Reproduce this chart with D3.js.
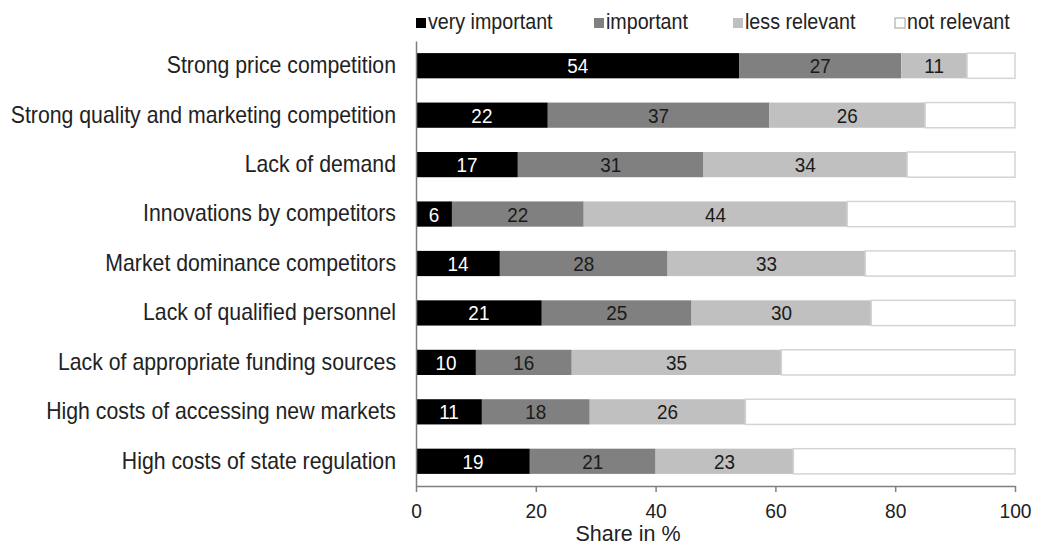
<!DOCTYPE html>
<html>
<head>
<meta charset="utf-8">
<script src="https://cdn.jsdelivr.net/npm/d3@7"></script>
<style>
  html, body { margin: 0; padding: 0; background: #fff; }
  svg { display: block; font-family: "Liberation Sans", Arial, sans-serif; }
</style>
</head>
<body>
<svg id="chart" width="1038" height="545"></svg>
<script>
// Obstacles to business: share of firms rating each factor
const categories = [
  "Strong price competition",
  "Strong quality and marketing competition",
  "Lack of demand",
  "Innovations by competitors",
  "Market dominance competitors",
  "Lack of qualified personnel",
  "Lack of appropriate funding sources",
  "High costs of accessing new markets",
  "High costs of state regulation"
];
const seriesNames = ["very important", "important", "less relevant", "not relevant"];
const veryImportant = [54, 22, 17, 6, 14, 21, 10, 11, 19];
const important     = [27, 37, 31, 22, 28, 25, 16, 18, 21];
const lessRelevant  = [11, 26, 34, 44, 33, 30, 35, 26, 23];
const notRelevant   = [8, 15, 18, 28, 25, 24, 39, 45, 37];
const xTicks = [0, 20, 40, 60, 80, 100];

const fills = ["#000000", "#808080", "#c0c0c0", "#ffffff"];
const labelColors = ["#ffffff", "#1a1a1a", "#1a1a1a", null];
const textColor = "#222222";

const rows = categories.map((c, i) => ({
  category: c,
  "very important": veryImportant[i],
  "important": important[i],
  "less relevant": lessRelevant[i],
  "not relevant": notRelevant[i]
}));

// narrow the type horizontally while keeping each label anchored in place
function squeeze(sel, k) {
  sel.each(function () {
    const t = d3.select(this);
    const x0 = +(t.attr("x") || 0);
    t.attr("x", x0 / k).attr("transform", `scale(${k},1)`);
  });
}

const svg = d3.select("#chart");
const margin = { left: 416, right: 23, top: 41, bottom: 59 };
const W = 1038, H = 545;

const x = d3.scaleLinear().domain([0, 100]).range([margin.left, W - margin.right]);
const y = d3.scaleBand().domain(categories).range([margin.top, H - margin.bottom]).paddingInner(0.49).paddingOuter(0.245);

const stacked = d3.stack().keys(seriesNames)(rows);

const layers = svg.append("g").selectAll("g")
  .data(stacked)
  .join("g")
  .attr("fill", (d, i) => fills[i]);

layers.selectAll("rect")
  .data(d => d.map(s => ({ s, idx: d.index })))
  .join("rect")
  .attr("x", d => x(d.s[0]))
  .attr("y", d => y(d.s.data.category))
  .attr("width", d => x(d.s[1]) - x(d.s[0]))
  .attr("height", y.bandwidth())
  .attr("stroke", d => d.idx === 3 ? "#d4d4d4" : "none")
  .attr("stroke-width", d => d.idx === 3 ? 1.5 : 0);

// value labels inside segments
const valueLabels = layers.filter((d, i) => labelColors[i] !== null)
  .selectAll("text")
  .data(d => d.map(s => ({ s, idx: d.index })))
  .join("text")
  .attr("x", d => (x(d.s[0]) + x(d.s[1])) / 2)
  .attr("y", d => y(d.s.data.category) + y.bandwidth() / 2)
  .attr("dy", "0.36em")
  .attr("text-anchor", "middle")
  .attr("font-size", 21)
  .attr("fill", d => labelColors[d.idx])
  .text(d => d.s[1] - d.s[0]);
squeeze(valueLabels, 0.9);

// y axis: category names and a plain vertical line
const yAxis = svg.append("g")
  .attr("transform", `translate(${margin.left},0)`)
  .call(d3.axisLeft(y).tickSize(0).tickPadding(20));
yAxis.select(".domain").attr("stroke", "#7f7f7f").attr("stroke-width", 1.5);
const catText = yAxis.selectAll("text")
  .attr("font-size", 23)
  .attr("font-family", "Liberation Sans, Arial, sans-serif")
  .attr("fill", textColor);
squeeze(catText, 0.925);

// x axis
const xAxis = svg.append("g")
  .attr("transform", `translate(0,${H - margin.bottom})`)
  .call(d3.axisBottom(x).tickValues(xTicks).tickSize(6).tickSizeOuter(0));
xAxis.select(".domain").attr("stroke", "#7f7f7f").attr("stroke-width", 1.5);
xAxis.selectAll(".tick line").attr("stroke", "#7f7f7f").attr("stroke-width", 1.5);
const tickText = xAxis.selectAll("text")
  .attr("y", 32)
  .attr("dy", null)
  .attr("font-size", 21)
  .attr("font-family", "Liberation Sans, Arial, sans-serif")
  .attr("fill", textColor);
squeeze(tickText, 0.915);

svg.append("text")
  .attr("x", 628)
  .attr("y", 541)
  .attr("text-anchor", "middle")
  .attr("font-size", 21.5)
  .attr("fill", textColor)
  .text("Share in %");

// legend
const legendX = [416, 594, 733, 895];
const legend = svg.append("g").selectAll("g")
  .data(seriesNames)
  .join("g")
  .attr("transform", (d, i) => `translate(${legendX[i]},0)`);
legend.append("rect")
  .attr("x", 0).attr("y", 18)
  .attr("width", 10).attr("height", 10)
  .attr("fill", (d, i) => fills[i])
  .attr("stroke", (d, i) => i === 3 ? "#a0a0a0" : "none");
const legendText = legend.append("text")
  .attr("x", 12)
  .attr("y", 29)
  .attr("font-size", 21.5)
  .attr("fill", textColor)
  .text(d => d);
squeeze(legendText, 0.915);
</script>
</body>
</html>
